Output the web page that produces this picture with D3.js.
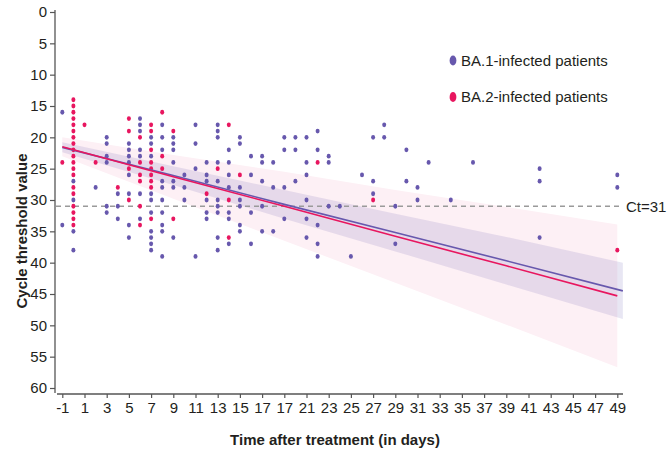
<!DOCTYPE html>
<html>
<head>
<meta charset="utf-8">
<script src="https://cdn.jsdelivr.net/npm/d3@7"></script>
<style>
  body { margin: 0; background: #fff; }
  svg { display: block; font-family: "Liberation Sans", Arial, sans-serif; }
</style>
</head>
<body>
<div id="chart"></div>
<script>
// Ct values per day
const ba1Points = [
  { day: -1, ct: [16, 34] },
  { day: 0, ct: [27, 30, 35, 38] },
  { day: 2, ct: [28] },
  { day: 3, ct: [20, 21, 23, 24, 31, 32] },
  { day: 4, ct: [29, 31, 33] },
  { day: 5, ct: [21, 22, 23, 24, 26, 29, 34, 36] },
  { day: 6, ct: [17, 18, 19, 22, 23, 29, 33] },
  { day: 7, ct: [20, 21, 23, 29, 30, 32, 35, 36, 37, 38] },
  { day: 8, ct: [18, 20, 22, 27, 28, 30, 32, 34, 35, 39] },
  { day: 9, ct: [20, 21, 22, 24, 27, 28, 36] },
  { day: 10, ct: [26, 28, 30] },
  { day: 11, ct: [18, 21, 25, 39] },
  { day: 12, ct: [24, 26, 27, 30, 32, 33] },
  { day: 13, ct: [18, 19, 20, 24, 27, 30, 31, 32, 36, 38] },
  { day: 14, ct: [22, 24, 26, 28, 32, 33, 37] },
  { day: 15, ct: [20, 21, 28, 30, 31, 34, 35] },
  { day: 16, ct: [23, 26, 32, 37] },
  { day: 17, ct: [23, 24, 27, 31, 35] },
  { day: 18, ct: [24, 28, 35] },
  { day: 19, ct: [20, 22, 28, 33] },
  { day: 20, ct: [20, 22, 27] },
  { day: 21, ct: [20, 24, 26, 30, 33, 36] },
  { day: 22, ct: [19, 22, 34, 37, 39] },
  { day: 23, ct: [23, 24, 31] },
  { day: 24, ct: [31] },
  { day: 25, ct: [39] },
  { day: 26, ct: [26] },
  { day: 27, ct: [20, 27, 29] },
  { day: 28, ct: [18, 20] },
  { day: 29, ct: [31, 37] },
  { day: 30, ct: [22, 27] },
  { day: 31, ct: [28, 30] },
  { day: 32, ct: [24] },
  { day: 34, ct: [30] },
  { day: 36, ct: [24] },
  { day: 42, ct: [25, 27, 36] },
  { day: 49, ct: [26, 28] }
];

const ba2Points = [
  { day: -1, ct: [24] },
  { day: 0, ct: [14, 15, 16, 17, 18, 19, 20, 21, 22, 23, 24, 25, 26, 28, 29, 31, 32, 33, 34] },
  { day: 1, ct: [18] },
  { day: 2, ct: [24] },
  { day: 4, ct: [28] },
  { day: 5, ct: [17, 19, 25, 30] },
  { day: 6, ct: [20, 24, 26, 27, 31, 34] },
  { day: 7, ct: [18, 19, 22, 24, 25, 26, 27, 28, 33] },
  { day: 8, ct: [16, 23, 25] },
  { day: 9, ct: [19, 33] },
  { day: 12, ct: [29] },
  { day: 13, ct: [25] },
  { day: 14, ct: [18, 30, 36] },
  { day: 15, ct: [26] },
  { day: 22, ct: [24] },
  { day: 27, ct: [30] },
  { day: 49, ct: [38] }
];

// fitted lines and their bands, read at a few days
const ba1BandDays = [-1, 9, 19, 29, 39, 49.5];
const ba1Fit = [21.6, 26.1, 30.7, 35.2, 39.7, 44.5];
const ba1Lower = [20.8, 24.6, 28.4, 32.2, 35.9, 40.0];
const ba1Upper = [22.4, 27.6, 33.0, 38.2, 43.5, 49.0];

const ba2BandDays = [-1, 9, 19, 29, 39, 49];
const ba2Fit = [21.5, 26.3, 31.0, 35.8, 40.5, 45.3];
const ba2Lower = [20.0, 22.8, 25.5, 28.4, 31.1, 33.9];
const ba2Upper = [23.0, 29.8, 36.5, 43.2, 49.9, 56.7];

const threshold = 31;
const xTicks = d3.range(-1, 50, 2);
const xTickLabels = ['-1', '1', '3', '5', '7', '9', '11', '13', '15', '17', '17', '21', '23', '25',
  '27', '29', '31', '33', '35', '37', '39', '41', '43', '45', '47', '49'];
const yTicks = d3.range(0, 61, 5);
const seriesNames = ['BA.1-infected patients', 'BA.2-infected patients'];

const blue = '#6758ad';
const pink = '#e8165f';
const textColor = '#231f20';

const width = 668, height = 450;

const svg = d3.select('#chart')
  .append('svg')
  .attr('width', width)
  .attr('height', height);

const x = d3.scaleLinear().domain([-1, 49]).range([62.3, 617.3]);
const y = d3.scaleLinear().domain([0, 60]).range([12, 388]);

// bands
const area = d3.area()
  .x(d => x(d[0]))
  .y0(d => y(d[1]))
  .y1(d => y(d[2]));

svg.append('path')
  .datum(ba2BandDays.map((d, i) => [d, ba2Lower[i], ba2Upper[i]]))
  .attr('d', area)
  .attr('fill', '#fdf0f5');

svg.append('path')
  .datum(ba1BandDays.map((d, i) => [d, ba1Lower[i], ba1Upper[i]]))
  .attr('d', area)
  .attr('fill', '#6758ad')
  .attr('fill-opacity', 0.15);

// threshold line
svg.append('line')
  .attr('x1', 56).attr('x2', 622)
  .attr('y1', y(threshold)).attr('y2', y(threshold))
  .attr('stroke', '#9a9a9a')
  .attr('stroke-width', 1.3)
  .attr('stroke-dasharray', '5,4');

svg.append('text')
  .attr('x', 626)
  .attr('y', y(threshold))
  .attr('dy', '0.35em')
  .attr('font-size', 15)
  .attr('fill', textColor)
  .text('Ct=' + threshold);

// points
function drawPoints(cols, color) {
  const pts = cols.flatMap(c => c.ct.map(v => ({ day: c.day, ct: v })));
  svg.append('g')
    .selectAll('ellipse')
    .data(pts)
    .enter()
    .append('ellipse')
    .attr('cx', d => x(d.day))
    .attr('cy', d => y(d.ct))
    .attr('rx', 2)
    .attr('ry', 2.4)
    .attr('fill', color);
}
drawPoints(ba1Points, blue);
drawPoints(ba2Points, pink);

// fit lines
const line = d3.line().x(d => x(d[0])).y(d => y(d[1]));
svg.append('path')
  .datum(ba1BandDays.map((d, i) => [d, ba1Fit[i]]))
  .attr('d', line)
  .attr('fill', 'none')
  .attr('stroke', blue)
  .attr('stroke-width', 1.6);
svg.append('path')
  .datum(ba2BandDays.map((d, i) => [d, ba2Fit[i]]))
  .attr('d', line)
  .attr('fill', 'none')
  .attr('stroke', pink)
  .attr('stroke-width', 1.6);

// axes
const yAxis = svg.append('g')
  .attr('transform', 'translate(55,0)')
  .call(d3.axisLeft(y).tickValues(yTicks).tickSize(5).tickSizeOuter(0).tickPadding(3));
yAxis.select('.domain').remove();
yAxis.append('line')
  .attr('x1', 0).attr('x2', 0)
  .attr('y1', y(0) - 2).attr('y2', y(60) + 5)
  .attr('stroke', '#555').attr('stroke-width', 1.3);

const xAxis = svg.append('g')
  .attr('transform', 'translate(0,394)')
  .call(d3.axisBottom(x).tickValues(xTicks).tickSize(4).tickSizeOuter(0).tickPadding(4)
    .tickFormat((d, i) => xTickLabels[i]));
xAxis.select('.domain').remove();
xAxis.append('line')
  .attr('x1', 57).attr('x2', 623)
  .attr('y1', 0).attr('y2', 0)
  .attr('stroke', '#555').attr('stroke-width', 1.3);

svg.selectAll('.tick line').attr('stroke', '#555').attr('stroke-width', 1.2);
svg.selectAll('.tick text')
  .attr('font-family', '"Liberation Sans", Arial, sans-serif')
  .attr('font-size', 15)
  .attr('fill', textColor);

// axis titles
svg.append('text')
  .attr('transform', 'translate(27,231) rotate(-90)')
  .attr('text-anchor', 'middle')
  .attr('font-size', 15)
  .attr('font-weight', 'bold')
  .attr('fill', textColor)
  .text('Cycle threshold value');

svg.append('text')
  .attr('x', 335)
  .attr('y', 445)
  .attr('text-anchor', 'middle')
  .attr('font-size', 15)
  .attr('font-weight', 'bold')
  .attr('fill', textColor)
  .text('Time after treatment (in days)');

// legend
const legend = svg.append('g')
  .selectAll('g')
  .data(seriesNames)
  .enter()
  .append('g')
  .attr('transform', (d, i) => `translate(453,${60.5 + i * 36.5})`);
legend.append('ellipse')
  .attr('rx', 3.4)
  .attr('ry', 5)
  .attr('fill', (d, i) => i === 0 ? blue : pink);
legend.append('text')
  .attr('x', 8)
  .attr('dy', '0.35em')
  .attr('font-size', 15)
  .attr('fill', textColor)
  .text(d => d);
</script>
</body>
</html>
